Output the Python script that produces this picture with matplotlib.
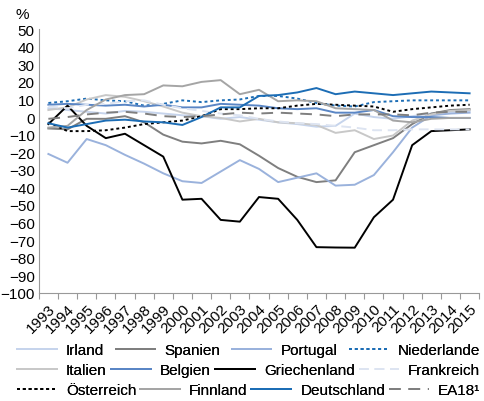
import numpy as np
import matplotlib.pyplot as plt

plt.rcParams["font.family"] = ["Liberation Sans", "DejaVu Sans"]
plt.rcParams["font.size"] = 11

years = list(range(1993, 2016))

irland = [5, 4, 3, 2, 3.5, 3, 2, 1, 0.5, -1, 0, -1.5, -3, -4, -5.5, -5, 2, 0, -1, 0.5, 2, 3, 3.5]
spanien = [-6.5, -7, -1, -1, 0.5, -3, -10, -14, -15, -13.5, -15.5, -22, -29, -34, -37, -36, -20, -16, -12, -4, 2, 4, 4.5]
portugal = [-21, -26, -12.5, -16, -21.5, -26.5, -32, -36.5, -37.5, -31, -24.5, -29.5, -37, -34.5, -32, -39, -38.5, -33, -20, -6, 1, 2, 2.5]
niederlande = [8, 9, 10.5, 9.5, 9, 6.5, 7.5, 9.5, 8.5, 9.5, 10, 12, 12, 10.5, 8, 6.5, 6, 8.5, 9, 9.5, 9.5, 9.5, 9.5]
italien = [4, 5.5, 10, 12.5, 11.5, 9, 6, 2.5, 0.5, -0.5, -2.5, -1, -3, -3.5, -4.5, -9, -7.5, -12.5, -10.5, -2, 1.5, 3.5, 4]
belgien = [7, 7.5, 7, 6.5, 7, 6, 7, 5.5, 5.5, 7.5, 7, 6.5, 5, 4.5, 5, 2.5, 2.5, 4, 0.5, 0, 0, -0.5, -0.5]
griechenland = [-4, 6.5, -5, -12, -9.5, -16, -22.5, -47, -46.5, -58.5, -59.5, -45.5, -46.5, -58.5, -74, -74.2, -74.3, -57, -47, -16, -8, -7.5, -7]
frankreich = [6, 5, 7, 7.5, 9, 9.5, 7, 5, 3.5, 2, 1, -1, -2.5, -3.5, -4, -5, -6, -7.5, -7.5, -7, -7, -7, -7]
oesterreich = [-3, -8, -8, -7.5, -6, -4, -3, -2, 0.5, 4.5, 4.5, 5, 5, 6.5, 7.5, 7, 6.5, 6, 3, 4.5, 5.5, 6.5, 7]
finnland = [-6, -5, 4, 10, 12.5, 13, 18, 17.5, 20, 21, 13, 15.5, 9, 9.5, 9, 5, 4.5, 4, -2, -3, -1, -0.5, -0.5]
deutschland = [-3.5, -6, -4, -2, -1.5, -2.5, -3, -4.5, 0, 5.5, 5.5, 12, 12.5, 14, 16.5, 13, 14.5, 13.5, 12.5, 13.5, 14.5, 14, 13.5]
ea18 = [-1, 0, 1.5, 2.5, 3, 2, 0.5, 0, 0.5, 1.5, 2.5, 2, 2.5, 2, 1.5, 0.5, 1.5, 1.5, 1.5, 1, 2.5, 3, 3]

fig = plt.figure(figsize=(4.85, 4.02), dpi=100)
ax = fig.add_axes([0.080, 0.269, 0.908, 0.656])

x = np.arange(len(years))
lw = 1.4
h = {}
h["Irland"], = ax.plot(x, irland, color="#c6d4ec", lw=lw)
h["Spanien"], = ax.plot(x, spanien, color="#7f7f7f", lw=lw)
h["Portugal"], = ax.plot(x, portugal, color="#9ab2dc", lw=lw)
h["Niederlande"], = ax.plot(x, niederlande, color="#1c6db5", lw=lw, linestyle=(0, (1.5, 1.5)))
h["Italien"], = ax.plot(x, italien, color="#c8c8c8", lw=lw)
h["Belgien"], = ax.plot(x, belgien, color="#5a86c5", lw=lw)
h["Griechenland"], = ax.plot(x, griechenland, color="black", lw=lw)
h["Frankreich"], = ax.plot(x, frankreich, color="#dde4f1", lw=lw, linestyle=(0, (5, 3)))
h["Österreich"], = ax.plot(x, oesterreich, color="black", lw=lw, linestyle=(0, (1.5, 1.5)))
h["Finnland"], = ax.plot(x, finnland, color="#a5a5a5", lw=lw)
h["Deutschland"], = ax.plot(x, deutschland, color="#1c6db5", lw=lw)
h["EA18¹"], = ax.plot(x, ea18, color="#7f7f7f", lw=lw, linestyle=(0, (6, 4)))

ax.set_xlim(-0.5, len(years) - 0.5)
ax.set_ylim(-100, 50)
ax.set_yticks(range(-100, 51, 10))
ax.set_xticks(np.arange(len(years) + 1) - 0.5)
ax.set_xticklabels([])
ax.set_xticks(x, minor=True)
ax.set_xticklabels([str(y) for y in years], minor=True, rotation=45,
                   ha="right", rotation_mode="anchor")
ax.tick_params(axis="x", which="major", length=4, color="#999999")
ax.tick_params(axis="x", which="minor", length=0, pad=6)
ax.tick_params(axis="y", length=0, pad=3)
for s in ["top", "right"]:
    ax.spines[s].set_visible(False)
for s in ["left", "bottom"]:
    ax.spines[s].set_color("#999999")
fig.text(0.045, 0.962, "%", ha="center", va="center", fontsize=11)

rows = [["Irland", "Spanien", "Portugal", "Niederlande"],
        ["Italien", "Belgien", "Griechenland", "Frankreich"],
        ["Österreich", "Finnland", "Deutschland", "EA18¹"]]
row_y = [0.127, 0.077, 0.027]
for names, yy in zip(rows, row_y):
    leg = fig.legend([h[n] for n in names], names, ncol=4, mode="expand",
                     loc="center", bbox_to_anchor=(0.035, yy - 0.02, 0.955, 0.04),
                     frameon=False, handlelength=2.6, handletextpad=0.6,
                     borderpad=0, borderaxespad=0, fontsize=11)
    fig.add_artist(leg)

fig.savefig("out.png", dpi=100)
